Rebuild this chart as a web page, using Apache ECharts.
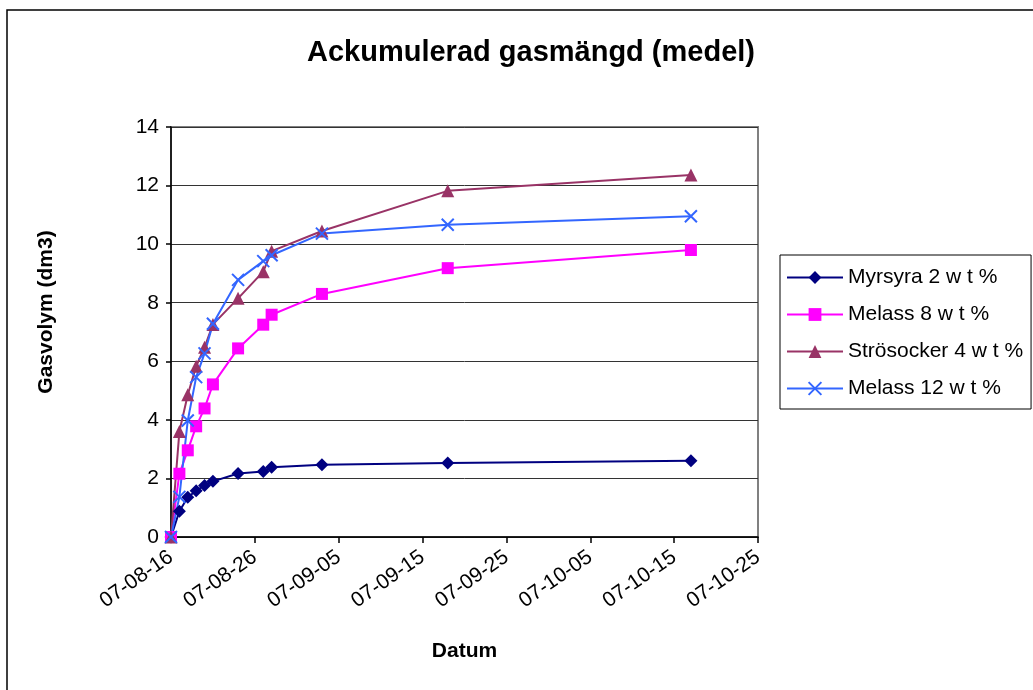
<!DOCTYPE html>
<html>
<head>
<meta charset="utf-8">
<title>Ackumulerad gasmängd (medel)</title>
<script src="https://cdn.jsdelivr.net/npm/echarts@6/dist/echarts.min.js"></script>
<style>
  html, body { margin: 0; padding: 0; background: #fff; }
  #chart { width: 1033px; height: 690px; }
</style>
</head>
<body>
<div id="chart"></div>
<script>
// Measurement dates (2007)
const dates = ['2007-08-16', '2007-08-17', '2007-08-18', '2007-08-19', '2007-08-20', '2007-08-21',
               '2007-08-24', '2007-08-27', '2007-08-28', '2007-09-03', '2007-09-18', '2007-10-17'];

// Accumulated gas volume (dm3) per substrate
const myrsyra2   = [0, 0.88, 1.36, 1.58, 1.76, 1.90, 2.17, 2.24, 2.38, 2.47, 2.53, 2.60];
const melass8    = [0, 2.16, 2.96, 3.78, 4.39, 5.21, 6.44, 7.25, 7.59, 8.30, 9.18, 9.80];
const strosocker = [0, 3.60, 4.86, 5.83, 6.48, 7.26, 8.15, 9.06, 9.76, 10.45, 11.82, 12.36];
const melass12   = [0, 1.37, 3.98, 5.46, 6.27, 7.28, 8.78, 9.42, 9.62, 10.36, 10.66, 10.95];

const seriesNames = ['Myrsyra 2 w t %', 'Melass 8 w t %', 'Strösocker 4 w t %', 'Melass 12 w t %'];

// Date axis tick labels, one every 10 days from the first measurement
const xTickLabels = ['07-08-16', '07-08-26', '07-09-05', '07-09-15', '07-09-25', '07-10-05', '07-10-15', '07-10-25'];

const DAY = 86400000;
const start = Date.parse(dates[0]);
const dayOf = s => (Date.parse(s) - start) / DAY;
const pairs = vals => dates.map((d, i) => [dayOf(d), vals[i]]);

const FONT = '"Liberation Sans", Arial, sans-serif';
const CROSS = 'path://M0,0L10,10M10,0L0,10';

const chart = echarts.init(document.getElementById('chart'), null, { renderer: 'canvas' });

function lineSeries(name, vals, color, symbol, size, extraItem) {
  return {
    name: name,
    type: 'line',
    data: pairs(vals),
    symbol: symbol,
    symbolSize: size,
    showSymbol: true,
    lineStyle: { color: color, width: 2 },
    itemStyle: Object.assign({ color: color }, extraItem || {}),
    emphasis: { disabled: true }
  };
}

chart.setOption({
  animation: false,
  backgroundColor: '#ffffff',
  graphic: [{
    type: 'rect',
    shape: { x: 7, y: 10, width: 1100, height: 760 },
    style: { fill: 'none', stroke: '#000', lineWidth: 1.5 },
    silent: true, z: 100
  }],
  title: {
    text: 'Ackumulerad gasmängd (medel)',
    left: 526,
    top: 33,
    textAlign: 'center',
    textStyle: { fontFamily: FONT, fontSize: 29, fontWeight: 'bold', color: '#000' }
  },
  legend: {
    orient: 'vertical',
    left: 780,
    top: 255,
    padding: [12, 8, 10, 6],
    itemWidth: 56,
    itemHeight: 16,
    itemGap: 16,
    borderColor: '#000',
    borderWidth: 1,
    backgroundColor: '#fff',
    textStyle: { fontFamily: FONT, fontSize: 21, color: '#000' },
    data: seriesNames
  },
  grid: {
    left: 171, top: 127, right: 275, bottom: 153,
    show: true, borderColor: '#808080', borderWidth: 2, backgroundColor: '#fff'
  },
  xAxis: {
    type: 'value',
    min: 0, max: 70, interval: 10,
    name: 'Datum',
    nameLocation: 'middle',
    nameGap: 104,
    nameTextStyle: { fontFamily: FONT, fontSize: 21, fontWeight: 'bold', color: '#000' },
    axisLine: { lineStyle: { color: '#000', width: 1.5 } },
    axisTick: { show: true, length: 6, lineStyle: { color: '#000', width: 1.5 } },
    splitLine: { show: false },
    axisLabel: {
      rotate: 35,
      margin: 18,
      fontFamily: FONT, fontSize: 21, color: '#000',
      formatter: v => xTickLabels[Math.round(v / 10)]
    }
  },
  yAxis: {
    type: 'value',
    min: 0, max: 14, interval: 2,
    name: 'Gasvolym (dm3)',
    nameLocation: 'middle',
    nameGap: 114,
    nameTextStyle: { fontFamily: FONT, fontSize: 21, fontWeight: 'bold', color: '#000', padding: [0, 0, 0, 40] },
    axisLine: { show: true, lineStyle: { color: '#000', width: 1.5 } },
    axisTick: { show: true, length: 5, lineStyle: { color: '#000', width: 1.5 } },
    splitLine: { show: true, lineStyle: { color: '#333', width: 1 } },
    axisLabel: { margin: 12, fontFamily: FONT, fontSize: 21, color: '#000' }
  },
  series: [
    lineSeries(seriesNames[0], myrsyra2, '#000080', 'diamond', 13),
    lineSeries(seriesNames[1], melass8, '#FF00FF', 'rect', 12),
    lineSeries(seriesNames[2], strosocker, '#993366', 'triangle', 13),
    lineSeries(seriesNames[3], melass12, '#3366FF', CROSS, 12, { borderColor: '#3366FF', borderWidth: 2 })
  ]
});
</script>
</body>
</html>
